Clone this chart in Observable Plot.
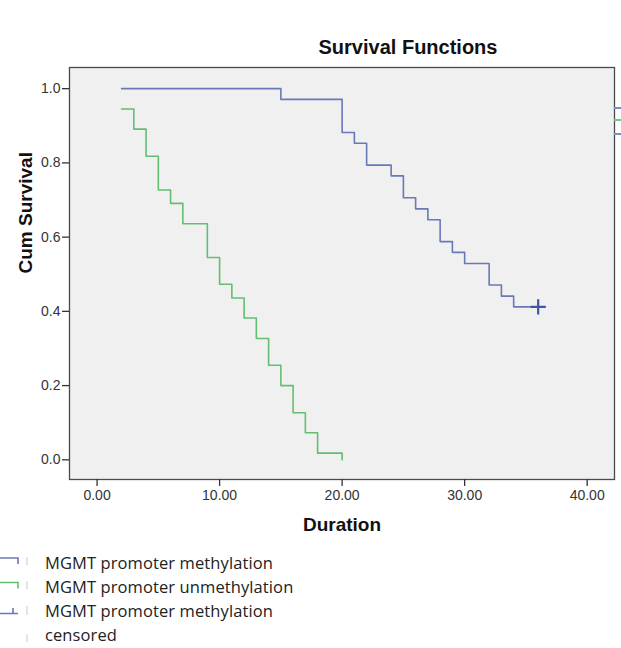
<!DOCTYPE html>
<html>
<head>
<meta charset="utf-8">
<script src="https://cdn.jsdelivr.net/npm/d3@7"></script>
<script src="https://cdn.jsdelivr.net/npm/@observablehq/plot@0.6"></script>
<style>
  html, body { margin: 0; padding: 0; background: #fff; }
  body { width: 621px; height: 648px; overflow: hidden; position: relative; font-family: "Liberation Sans", Arial, sans-serif; }
  #chart { position: absolute; left: 0; top: 0; }
  #legend { position: absolute; left: 0; top: 540px; }
  .edge { position: absolute; left: 614px; width: 7px; height: 1.5px; }
</style>
</head>
<body>
<div id="chart"></div>
<svg id="legend" width="621" height="108"></svg>
<div class="edge" style="top:107px;background:#7d8cc4"></div>
<div class="edge" style="top:119px;background:#74c57f"></div>
<div class="edge" style="top:133px;background:#7d8cc4"></div>
<script>
// ---- data ----
const methTime   = [2, 15, 20, 21, 22, 24, 25, 26, 27, 28, 29, 30, 32, 33, 34, 36];
const methSurv   = [1, 0.971, 0.882, 0.853, 0.794, 0.765, 0.706, 0.676, 0.647, 0.588, 0.559, 0.529, 0.471, 0.441, 0.412, 0.412];
const unmethTime = [2, 3, 4, 5, 6, 7, 9, 10, 11, 12, 13, 14, 15, 16, 17, 18, 20];
const unmethSurv = [0.945, 0.891, 0.818, 0.727, 0.691, 0.636, 0.545, 0.473, 0.436, 0.382, 0.327, 0.255, 0.2, 0.127, 0.073, 0.018, 0];
const censorTime = [36];
const censorSurv = [0.412];
const xTicks = [0, 10, 20, 30, 40];
const yTicks = [0, 0.2, 0.4, 0.6, 0.8, 1.0];
const legendLabels = ["MGMT promoter methylation", "MGMT promoter unmethylation", "MGMT promoter methylation", "censored"];
const titleText = "Survival Functions";
const xLabel = "Duration";
const yLabel = "Cum Survival";

const blue = "#6779b8";
const green = "#62bf72";
const censorBlue = "#3e56a6";

const meth = methTime.map((t, i) => ({t, s: methSurv[i]}));
const unmeth = unmethTime.map((t, i) => ({t, s: unmethSurv[i]}));
const censor = censorTime.map((t, i) => ({t, s: censorSurv[i]}));

const chart = Plot.plot({
  width: 621,
  height: 540,
  marginLeft: 69,
  marginRight: 7,
  marginTop: 67,
  marginBottom: 61,
  style: {background: "transparent", fontFamily: "Liberation Sans, Arial, sans-serif"},
  x: {domain: [-2.25, 42.23]},
  y: {domain: [-0.053, 1.057]},
  marks: [
    Plot.frame({fill: "#f0f0f0", stroke: "#4a4a4a", strokeWidth: 1.3}),
    Plot.line(unmeth, {x: "t", y: "s", curve: "step-after", stroke: green, strokeWidth: 1.6}),
    Plot.line(meth, {x: "t", y: "s", curve: "step-after", stroke: blue, strokeWidth: 1.6}),
    Plot.dot(censor, {x: "t", y: "s", symbol: "plus", r: 5, stroke: censorBlue, strokeWidth: 2.2}),
    Plot.axisX({ticks: xTicks, tickFormat: d3.format(".2f"), tickSize: 7, tickPadding: 4, fontSize: 14, color: "#333", label: null, stroke: "#333", strokeWidth: 1.3}),
    Plot.axisY({ticks: yTicks, tickFormat: d3.format(".1f"), tickSize: 7, tickPadding: 2, fontSize: 14, color: "#333", label: null, stroke: "#333", strokeWidth: 1.3}),
    Plot.text([xLabel], {frameAnchor: "bottom", text: d => d, dy: 45, fontSize: 19, fontWeight: "bold", fill: "#111", lineAnchor: "middle"}),
    Plot.text([yLabel], {frameAnchor: "left", text: d => d, dx: -44, rotate: -90, fontSize: 19, fontWeight: "bold", fill: "#111", lineAnchor: "middle"}),
    Plot.text([titleText], {frameAnchor: "top", text: d => d, dx: 66, dy: -20, fontSize: 20, fontWeight: "bold", fill: "#111", lineAnchor: "middle"})
  ]
});
document.getElementById("chart").appendChild(chart);

// ---- legend below the chart ----
const lg = d3.select("#legend");
const baselines = [29, 53, 77, 101]; // relative to legend top (540)
const font = "'Open Sans', 'Noto Sans', sans-serif";
legendLabels.forEach((lab, i) => {
  lg.append("text").attr("x", 45).attr("y", baselines[i])
    .attr("font-family", font).attr("font-size", 16.5).attr("letter-spacing", "0.1")
    .attr("fill", "#222").text(lab);
});
// symbols
lg.append("path").attr("d", "M0,18 H18 V24").attr("fill", "none").attr("stroke", blue).attr("stroke-width", 1.6);
lg.append("path").attr("d", "M0,42.5 H18 V48.5").attr("fill", "none").attr("stroke", green).attr("stroke-width", 1.6);
lg.append("path").attr("d", "M0,73.5 H18 M13,68 V73.5").attr("fill", "none").attr("stroke", blue).attr("stroke-width", 1.6);
// light separator ticks
[[17, 25], [41, 49], [66, 75], [94, 102]].forEach(([a, b]) => {
  lg.append("line").attr("x1", 27).attr("x2", 27).attr("y1", a).attr("y2", b).attr("stroke", "#c8c8c8").attr("stroke-width", 1);
});
</script>
</body>
</html>
